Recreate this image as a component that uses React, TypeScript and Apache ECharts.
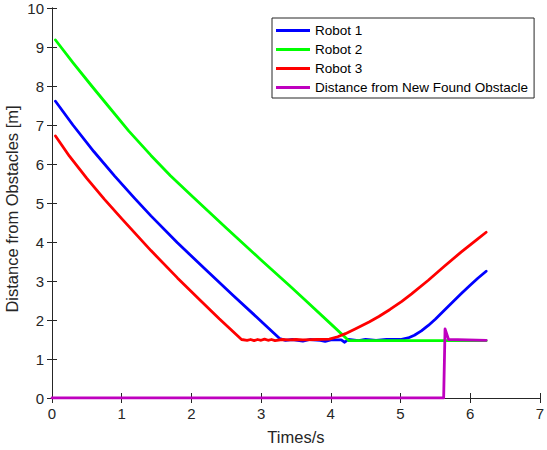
import React, { useEffect, useRef } from "react";
import * as echarts from "echarts";

const seriesNames = ["Robot 1", "Robot 2", "Robot 3", "Distance from New Found Obstacle"];
const xTicks = [0, 1, 2, 3, 4, 5, 6, 7];
const yTicks = [0, 1, 2, 3, 4, 5, 6, 7, 8, 9, 10];

const robot1: number[][] = [
  [0.05, 7.61], [0.3, 7.0], [0.6, 6.32], [0.9, 5.69], [1.18, 5.13], [1.42, 4.67],
  [1.8, 3.98], [2.2, 3.3], [2.6, 2.63], [3.0, 1.97], [3.27, 1.52], [3.35, 1.48],
  [3.45, 1.5], [3.6, 1.46], [3.7, 1.5], [3.85, 1.48], [3.92, 1.45], [4.0, 1.49],
  [4.15, 1.49], [4.2, 1.43], [4.25, 1.5], [4.4, 1.47], [4.5, 1.5], [4.65, 1.48],
  [4.8, 1.5], [5.0, 1.5], [5.11, 1.54], [5.2, 1.61], [5.3, 1.72], [5.4, 1.86],
  [5.5, 2.02], [5.63, 2.25], [5.75, 2.46], [5.87, 2.67], [6.0, 2.89], [6.11, 3.07],
  [6.23, 3.25],
];

const robot2: number[][] = [
  [0.05, 9.18], [0.3, 8.6], [0.57, 8.0], [0.8, 7.5], [1.1, 6.85], [1.42, 6.22],
  [1.7, 5.7], [2.0, 5.19], [2.5, 4.36], [3.0, 3.54], [3.41, 2.88], [3.62, 2.53],
  [4.0, 1.9], [4.26, 1.47], [4.4, 1.47], [5.0, 1.47], [6.23, 1.47],
];

const robot3: number[][] = [
  [0.05, 6.72], [0.25, 6.2], [0.5, 5.63], [0.75, 5.1], [1.0, 4.6], [1.42, 3.78],
  [1.8, 3.08], [2.13, 2.5], [2.4, 2.03], [2.72, 1.5], [2.8, 1.48], [2.85, 1.5],
  [2.9, 1.47], [2.95, 1.5], [3.0, 1.48], [3.05, 1.51], [3.1, 1.48], [3.15, 1.5],
  [3.2, 1.47], [3.3, 1.5], [3.4, 1.49], [3.5, 1.5], [3.6, 1.49], [3.8, 1.5],
  [3.98, 1.51], [4.1, 1.57], [4.21, 1.65], [4.35, 1.77], [4.55, 1.95], [4.69, 2.09],
  [4.85, 2.27], [5.02, 2.48], [5.16, 2.67], [5.4, 3.02], [5.63, 3.38], [5.87, 3.74],
  [6.11, 4.08], [6.23, 4.25],
];

const obstacle: number[][] = [
  [0, 0], [5.62, 0], [5.64, 1.77], [5.69, 1.5], [6.23, 1.48],
];

const colors = ["#0000ff", "#00ff00", "#ff0000", "#bf00bf"];
const FONT = "'Liberation Sans', Arial, Helvetica, sans-serif";
const AXIS = "#262626";

export default function App() {
  const ref = useRef<HTMLDivElement>(null);
  useEffect(() => {
    if (!ref.current) return;
    const chart = echarts.init(ref.current, undefined, { renderer: "svg" });
    const axisCommon = {
      type: "value" as const,
      interval: 1,
      axisLine: { show: true, lineStyle: { color: AXIS, width: 1 } },
      axisTick: { show: true, inside: true, length: 5, lineStyle: { color: AXIS } },
      splitLine: { show: false },
    };
    const datasets = [robot1, robot2, robot3, obstacle];
    chart.setOption({
      animation: false,
      backgroundColor: "#ffffff",
      textStyle: { fontFamily: FONT },
      grid: { left: 52, right: 5, top: 8, bottom: 51, containLabel: false },
      legend: {
        data: seriesNames,
        orient: "vertical",
        left: 272,
        top: 18,
        backgroundColor: "#ffffff",
        borderColor: AXIS,
        borderWidth: 1,
        borderRadius: 0,
        padding: [5, 6, 3, 4],
        itemGap: 4,
        itemWidth: 34,
        itemHeight: 3,
        icon: "rect",
        textStyle: { fontSize: 13.5, color: "#000", fontFamily: FONT, lineHeight: 15 },
      },
      xAxis: [
        {
          ...axisCommon,
          min: xTicks[0],
          max: xTicks[xTicks.length - 1],
          position: "bottom",
          name: "Times/s",
          nameLocation: "middle",
          nameGap: 30,
          nameTextStyle: { fontSize: 16.5, color: AXIS, fontFamily: FONT },
          axisLabel: { fontSize: 15, color: AXIS, margin: 8, fontFamily: FONT },
        },
        {
          ...axisCommon,
          min: xTicks[0],
          max: xTicks[xTicks.length - 1],
          position: "top",
          axisLabel: { show: false },
        },
      ],
      yAxis: [
        {
          ...axisCommon,
          min: yTicks[0],
          max: yTicks[yTicks.length - 1],
          position: "left",
          axisLabel: { fontSize: 15, color: AXIS, margin: 8, fontFamily: FONT },
        },
        {
          ...axisCommon,
          min: yTicks[0],
          max: yTicks[yTicks.length - 1],
          position: "right",
          axisLabel: { show: false },
        },
      ],
      graphic: [
        {
          type: "text",
          x: 12,
          y: 209,
          rotation: Math.PI / 2,
          style: {
            text: "Distance from Obstacles [m]",
            font: `16.5px ${FONT}`,
            fill: AXIS,
            textAlign: "center",
            textVerticalAlign: "middle",
          },
        },
      ],
      series: seriesNames.map((name, i) => ({
        name,
        type: "line",
        xAxisIndex: 0,
        yAxisIndex: 0,
        data: datasets[i],
        showSymbol: false,
        symbol: "none",
        color: colors[i],
        lineStyle: { color: colors[i], width: 2.8, join: "round", cap: "round" },
        z: 2 + i,
      })),
    });
    return () => chart.dispose();
  }, []);
  return (
    <div
      ref={ref}
      style={{ position: "fixed", left: 0, top: 0, width: 547, height: 450 }}
    />
  );
}
